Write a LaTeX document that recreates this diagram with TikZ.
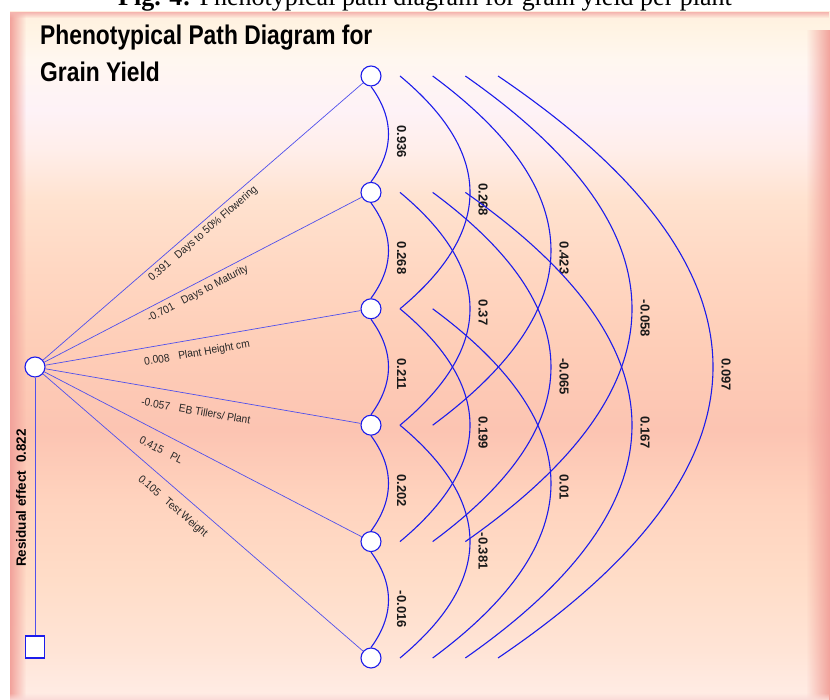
\documentclass[tikz,border=0pt]{standalone}
\usepackage{fontspec}
\newfontfamily\arialf{Liberation Sans}
\newfontfamily\narrowf[FakeStretch=0.93]{Liberation Sans}
\newfontfamily\titlef[FakeStretch=0.845]{Liberation Sans}
\newfontfamily\capf{Liberation Serif}
\usetikzlibrary{calc,fadings}

\definecolor{cblue}{RGB}{28,28,235}
\definecolor{lblue}{RGB}{80,80,236}
\definecolor{edgepink}{HTML}{F2A29B}
\definecolor{bgA}{HTML}{FFEDE6}
\definecolor{bgB}{HTML}{FFE4D6}
\definecolor{bgC}{HTML}{FFDDC8}
\definecolor{bgD}{HTML}{FFD3BE}
\definecolor{bgE}{HTML}{FCC4B2}
\definecolor{bgF}{HTML}{FECDB7}
\definecolor{bgG}{HTML}{FFD7C2}
\definecolor{bgH}{HTML}{FFE2CF}
\definecolor{bgI}{HTML}{FFEEEA}
\definecolor{bgJ}{HTML}{FEF2F7}
\definecolor{bgK}{HTML}{FFF7F0}
\definecolor{bgL}{HTML}{FFF3E2}
\definecolor{bgM}{HTML}{FFEFDF}

\pgfdeclareverticalshading{panelbg}{100bp}{
 color(0bp)=(bgA); color(25bp)=(bgA);
 color(28.6bp)=(bgB); color(33.7bp)=(bgC); color(39.5bp)=(bgD);
 color(44.6bp)=(bgE); color(50.4bp)=(bgF); color(56.25bp)=(bgG);
 color(61.3bp)=(bgH); color(65bp)=(bgI); color(67.9bp)=(bgJ);
 color(71.5bp)=(bgK); color(74bp)=(bgL); color(75bp)=(bgM); color(100bp)=(bgM)}

\tikzset{
 vnode/.style={circle, draw=cblue, fill=white, line width=1.1pt, minimum size=20pt, inner sep=0pt},
 sqnode/.style={rectangle, draw=cblue, fill=white, line width=1.5pt, minimum width=19pt, minimum height=22pt, inner sep=0pt},
 pathline/.style={lblue, line width=0.7pt},
 corr/.style={cblue, line width=1.1pt},
 coef/.style={font=\arialf\bfseries\fontsize{13}{13}\selectfont, rotate=-90, anchor=west, inner sep=0pt, text=black!90},
 lbl/.style={font=\narrowf\fontsize{11}{11}\selectfont, inner sep=0pt, text=black!85},
 ttl/.style={font=\titlef\bfseries\fontsize{27}{27}\selectfont, anchor=base west, inner sep=0pt},
}

\begin{document}
\begin{tikzpicture}[x=1pt,y=1pt]
\useasboundingbox (0,0) rectangle (830,700);
\begin{scope}
\clip (0,0) rectangle (830,700);
\fill[white] (0,0) rectangle (830,700);
\shade[shading=panelbg] (10,0) rectangle (830,688);
\fill[edgepink, path fading=east] (10,0) rectangle (26,688);
\fill[edgepink, path fading=west] (806,0) rectangle (830,670);
\fill[edgepink!80, path fading=south] (10,682) rectangle (830,688);
\fill[edgepink!40, path fading=north] (10,0) rectangle (830,7);
\node[anchor=base, inner sep=0pt, font=\capf\fontsize{26}{26}\selectfont] (cap) at (425,694)
  {\textbf{Fig. 4:} Phenotypical path diagram for grain yield per plant};
\end{scope}

% title
\node[ttl] (title1) at (40,655) {Phenotypical Path Diagram for};
\node[ttl] (title2) at (40,618) {Grain Yield};

% nodes
\node[vnode] (src) at (35,333) {};
\node[sqnode] (sq) at (35,53) {};
\foreach \k in {1,...,6}{
  \pgfmathsetmacro{\ny}{624-116.4*(\k-1)}
  \node[vnode] (n\k) at (371,\ny) {};
}

% residual
\draw[pathline] (src) -- (sq);
\node[font=\arialf\bfseries\fontsize{13.5}{13.5}\selectfont, rotate=90, inner sep=0pt] (res) at (21,202)
  {Residual effect\hspace{8pt}0.822};

% direct paths
\foreach \k in {1,...,6}{ \draw[pathline] (src) -- (n\k); }

\foreach \k/\p/\dd/\ang/\txt in {
  1/0.482/9.5/40.9/{0.391\hspace{9pt}Days to 50\% Flowering},
  2/0.471/10.4/27.46/{-0.701\hspace{9pt}Days to Maturity},
  3/0.475/14.4/9.83/{0.008\hspace{9pt}Plant Height cm},
  4/0.487/15.8/-9.83/{-0.057\hspace{9pt}EB Tillers/ Plant},
  5/0.397/15.5/-27.46/{0.415\hspace{9pt}PL},
  6/0.44/15.4/-40.9/{0.105\hspace{9pt}Test Weight}}{
  \coordinate (m\k) at ($(src.center)!\p!(n\k.center)$);
  \node[lbl, rotate=\ang] (t\k) at ($(m\k)!\dd pt!-90:(n\k.center)$) {\txt};
}

% adjacent correlation arcs
\foreach \i/\j/\v in {1/2/0.936, 2/3/0.268, 3/4/0.211, 4/5/0.202, 5/6/-0.016}{
  \draw[corr] (n\i.south) .. controls ($(n\i.south)+(23.3,-31.8)$) and ($(n\j.north)+(23.3,31.8)$) .. (n\j.north);
  \pgfmathsetmacro{\ymid}{(624-116.4*(\i-1)+624-116.4*(\j-1))/2+9}
  \node[coef] (a\i\j) at (401.5,\ymid) {\v};
}

% longer correlation curves
\foreach \i/\j/\v in {1/3/0.268, 2/4/0.37, 3/5/0.199, 4/6/-0.381, 1/4/0.423, 2/5/-0.065, 3/6/0.01, 1/5/-0.058, 2/6/0.167, 1/6/0.097}{
  \pgfmathsetmacro{\dd}{\j-\i}
  \pgfmathsetmacro{\xs}{400+32.67*(\dd-2)}
  \pgfmathsetmacro{\bb}{70+48.33*(\dd-2)}
  \pgfmathsetmacro{\yi}{624-116.4*(\i-1)}
  \pgfmathsetmacro{\yj}{624-116.4*(\j-1)}
  \pgfmathsetmacro{\cx}{\xs+4/3*\bb}
  \pgfmathsetmacro{\cya}{\yi-(\yi-\yj)/3}
  \pgfmathsetmacro{\cyb}{\yj+(\yi-\yj)/3}
  \pgfmathsetmacro{\lx}{\xs+\bb+13}
  \pgfmathsetmacro{\ly}{(\yi+\yj)/2+9}
  \coordinate (s\i\j) at (\xs,\yi);
  \coordinate (e\i\j) at (\xs,\yj);
  \draw[corr] (s\i\j) .. controls (\cx,\cya) and (\cx,\cyb) .. (e\i\j);
  \node[coef] (b\i\j) at (\lx,\ly) {\v};
}
\end{tikzpicture}
\end{document}
